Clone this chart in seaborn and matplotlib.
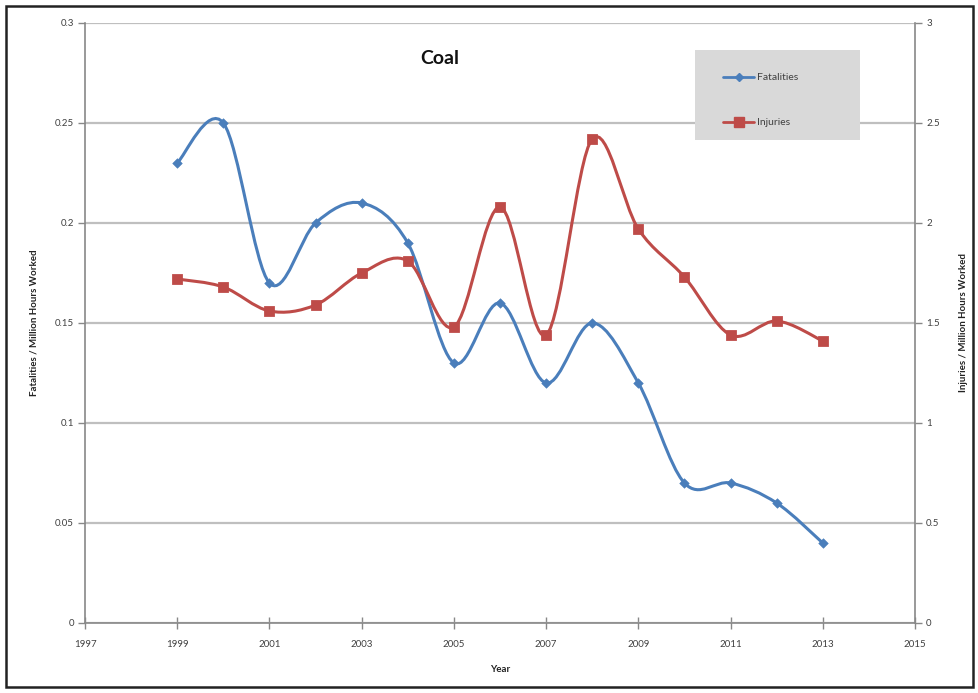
import matplotlib
matplotlib.use("Agg")
import matplotlib.pyplot as plt
import numpy as np
import pandas as pd
import seaborn as sns
from matplotlib.lines import Line2D
from matplotlib.patches import PathPatch, Rectangle
from matplotlib.path import Path
from matplotlib.ticker import FuncFormatter, MultipleLocator

# ── Data ─────────────────────────────────────────────────────────────────────
years = [1999, 2000, 2001, 2002, 2003, 2004, 2005, 2006,
         2007, 2008, 2009, 2010, 2011, 2012, 2013]
fatalities = [0.23, 0.25, 0.17, 0.20, 0.21, 0.19, 0.13, 0.16,
              0.12, 0.15, 0.12, 0.07, 0.07, 0.06, 0.04]
injuries = [1.72, 1.68, 1.56, 1.59, 1.75, 1.81, 1.48, 2.08,
            1.44, 2.42, 1.97, 1.73, 1.44, 1.51, 1.41]
x_ticks = [1997, 1999, 2001, 2003, 2005, 2007, 2009, 2011, 2013, 2015]

BLUE = "#4a7ebb"
RED = "#be4b48"
GRID = "#bfbfbf"
AXIS = "#888888"
TEXT = "#404040"

W, H = 979, 693


def smooth_path(xs, ys):
    """Excel-style smoothed line: cubic Bezier segments through every point."""
    pts = np.column_stack([xs, ys]).astype(float)
    verts = [pts[0]]
    codes = [Path.MOVETO]
    n = len(pts)
    for i in range(n - 1):
        p0 = pts[i - 1] if i > 0 else pts[i]
        p1, p2 = pts[i], pts[i + 1]
        p3 = pts[i + 2] if i + 2 < n else pts[i + 1]
        verts += [p1 + (p2 - p0) / 6, p2 - (p3 - p1) / 6, p2]
        codes += [Path.CURVE4] * 3
    return Path(verts, codes)


def general_fmt(v, _):
    return f"{v:g}"


sns.set_theme(style="white")
plt.rcParams["font.family"] = ["Lato", "DejaVu Sans"]

df = pd.DataFrame({"Year": years, "Fatalities": fatalities, "Injuries": injuries})

fig = plt.figure(figsize=(W / 100, H / 100), dpi=100)
ax = fig.add_axes([85 / W, 1 - 623 / H, 830 / W, 600 / H])
ax2 = ax.twinx()

# smooth lines
ax.add_patch(PathPatch(smooth_path(df["Year"], df["Fatalities"]),
                       facecolor="none", edgecolor=BLUE, lw=2.2, zorder=3))
ax2.add_patch(PathPatch(smooth_path(df["Year"], df["Injuries"]),
                        facecolor="none", edgecolor=RED, lw=2.2, zorder=3))

# markers
sns.scatterplot(data=df, x="Year", y="Fatalities", ax=ax, marker="D",
                s=24, color=BLUE, edgecolor=BLUE, zorder=4, legend=False)
sns.scatterplot(data=df, x="Year", y="Injuries", ax=ax2, marker="s",
                s=50, color=RED, edgecolor=RED, zorder=4, legend=False)

# axes
ax.set_xlim(1997, 2015)
ax.set_ylim(0, 0.3)
ax2.set_ylim(0, 3)
ax.set_xticks(x_ticks)
ax.yaxis.set_major_locator(MultipleLocator(0.05))
ax2.yaxis.set_major_locator(MultipleLocator(0.5))
ax.yaxis.set_major_formatter(FuncFormatter(general_fmt))
ax2.yaxis.set_major_formatter(FuncFormatter(general_fmt))

ax.grid(axis="y", color=GRID, lw=1.6)
ax.set_axisbelow(True)
for a in (ax, ax2):
    a.spines["top"].set_visible(False)
    for side in ("left", "right", "bottom"):
        a.spines[side].set_color(AXIS)
        a.spines[side].set_linewidth(1.2)
ax.spines["right"].set_visible(False)
ax2.spines["left"].set_visible(False)
ax2.spines["bottom"].set_visible(False)

ax.tick_params(axis="x", direction="inout", length=8, width=1, color=AXIS,
               labelsize=7, labelcolor=TEXT, pad=8, bottom=True)
ax.tick_params(axis="y", direction="out", length=5, width=1, color=AXIS,
               labelsize=7, labelcolor=TEXT, pad=3, left=True)
ax2.tick_params(axis="y", direction="out", length=5, width=1, color=AXIS,
                labelsize=7, labelcolor=TEXT, pad=3, right=True)

ax.set_xlabel("Year", fontsize=7, fontweight="bold", color="#222222", labelpad=12)
ax.set_ylabel("Fatalities / Million Hours Worked", fontsize=7,
              fontweight="bold", color="#222222", labelpad=12)
ax2.set_ylabel("Injuries / Million Hours Worked", fontsize=7,
               fontweight="bold", color="#222222", labelpad=14)

fig.text(440 / W, 1 - 58 / H, "Coal", fontsize=14, fontweight="bold",
         ha="center", va="center", color="#111111")

# legend box
fig.patches.append(Rectangle((695 / W, 1 - 140 / H), 165 / W, 90 / H,
                             transform=fig.transFigure, facecolor="#d9d9d9",
                             edgecolor="none", zorder=5))
handles = [
    Line2D([], [], color=BLUE, lw=2, marker="D", markersize=4.5),
    Line2D([], [], color=RED, lw=2, marker="s", markersize=6.5),
]
leg = fig.legend(handles, ["Fatalities", "Injuries"], loc="upper left",
                 bbox_to_anchor=(718 / W, 1 - 68 / H), frameon=False,
                 fontsize=7.5, handlelength=3.0, handletextpad=0.2,
                 labelspacing=3.4, borderpad=0)
leg.set_zorder(6)
for t in leg.get_texts():
    t.set_color(TEXT)

# outer chart border
fig.patches.append(Rectangle((6 / W, 6 / H), (W - 12) / W, (H - 12) / H,
                             transform=fig.transFigure, facecolor="none",
                             edgecolor="#222222", lw=1.8, zorder=10))

fig.savefig("out.png", dpi=100)
